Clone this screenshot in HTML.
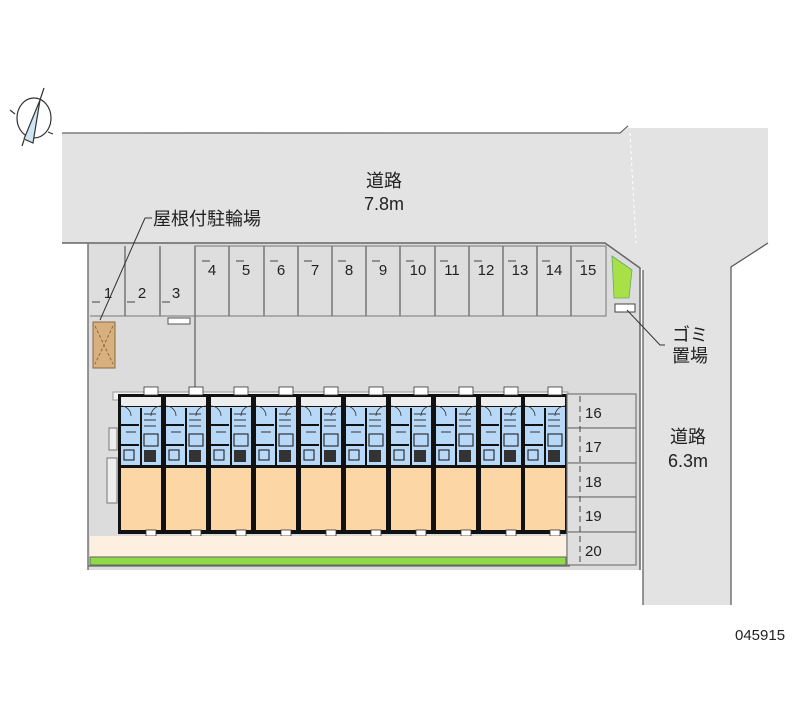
<!DOCTYPE html>
<html><head><meta charset="utf-8"><style>
html,body{margin:0;padding:0;background:#fff}
svg{display:block}
text{font-family:"Liberation Sans","Noto Sans CJK JP",sans-serif;fill:#222}
</style></head><body>
<svg width="800" height="727" viewBox="0 0 800 727" xmlns="http://www.w3.org/2000/svg">
<defs>
<g id="unit">
  <rect x="0" y="0" width="45" height="140" fill="#111"/>
  <rect x="3" y="3" width="40" height="9" fill="#eee"/>
  <rect x="3" y="13" width="40" height="58" fill="#b8d8f8"/>
  <rect x="3" y="74" width="40" height="62" fill="#fcd6a4"/>
  <rect x="22" y="14" width="2" height="57" fill="#111"/>
  <rect x="3" y="30" width="18" height="2" fill="#111"/>
  <rect x="3" y="50" width="18" height="2" fill="#111"/>
  <rect x="26" y="40" width="14" height="12" fill="none" stroke="#111" stroke-width="1"/>
  <rect x="26" y="56" width="12" height="12" fill="#333"/>
  <rect x="6" y="56" width="10" height="10" fill="none" stroke="#111"/>
  <path d="M26 20 h12 M26 26 h12 M26 32 h12 M8 38 h10" stroke="#333" stroke-width="1"/>
  <path d="M3 12 A10 10 0 0 1 13 22 M43 12 A10 10 0 0 0 33 22" fill="none" stroke="#333" stroke-width="0.8"/>
  <rect x="26" y="-7" width="14" height="8" fill="#fff" stroke="#333" stroke-width="0.8"/>
  <rect x="28" y="136" width="10" height="6" fill="#fff" stroke="#333" stroke-width="0.8"/>
</g>
</defs>
<!-- roads -->
<polygon points="62,133 208,132 620,133 628,128 768,128 768,243 731,267 731,605 643,605 643,270 605,243 88,243 62,243" fill="#e3e3e3"/>
<polyline points="62,133 340,133 620,133 628,126" fill="none" stroke="#666" stroke-width="1.2"/>
<polyline points="768,243 731,267 731,605" fill="none" stroke="#555" stroke-width="1.2"/>
<line x1="643" y1="270" x2="643" y2="605" stroke="#555" stroke-width="1.2"/>
<line x1="630" y1="133" x2="636" y2="243" stroke="#fff" stroke-dasharray="3,3"/>
<!-- site -->
<polygon points="88,243 605,243 640,268 640,570 88,570" fill="#dcdcdc"/>
<polyline points="62,243 605,243 640,268 640,570" fill="none" stroke="#666" stroke-width="1.5"/>
<line x1="88" y1="243" x2="88" y2="570" stroke="#777" stroke-width="1.5"/>
<line x1="88" y1="566" x2="570" y2="566" stroke="#666" stroke-width="1.2"/>
<!-- parking top -->
<rect x="90" y="246" width="105" height="70" fill="#dedede"/>
<rect x="195" y="246" width="411" height="70" fill="#dedede" stroke="#777"/>
<line x1="90" y1="316" x2="195" y2="316" stroke="#777"/>
<line x1="125" y1="246" x2="125" y2="316" stroke="#777" stroke-width="1.5"/>
<line x1="160" y1="246" x2="160" y2="316" stroke="#777" stroke-width="1.5"/>
<line x1="195" y1="246" x2="195" y2="395" stroke="#777" stroke-width="1.5"/>
<g stroke="#777" stroke-width="1.5">
<line x1="229" y1="246" x2="229" y2="316"/><line x1="264" y1="246" x2="264" y2="316"/><line x1="298" y1="246" x2="298" y2="316"/><line x1="332" y1="246" x2="332" y2="316"/><line x1="366" y1="246" x2="366" y2="316"/><line x1="400" y1="246" x2="400" y2="316"/><line x1="435" y1="246" x2="435" y2="316"/><line x1="469" y1="246" x2="469" y2="316"/><line x1="503" y1="246" x2="503" y2="316"/><line x1="537" y1="246" x2="537" y2="316"/><line x1="571" y1="246" x2="571" y2="316"/>
</g>
<line x1="198" y1="261" x2="604" y2="261" stroke="#444" stroke-dasharray="8,26" stroke-dashoffset="-4"/>
<line x1="92" y1="302" x2="194" y2="302" stroke="#444" stroke-dasharray="8,27"/>
<g font-size="15" text-anchor="middle">
<text x="108" y="298">1</text><text x="142" y="298">2</text><text x="176" y="298">3</text>
<text x="212" y="275">4</text><text x="246" y="275">5</text><text x="281" y="275">6</text><text x="315" y="275">7</text><text x="349" y="275">8</text><text x="383" y="275">9</text><text x="418" y="275">10</text><text x="452" y="275">11</text><text x="486" y="275">12</text><text x="520" y="275">13</text><text x="554" y="275">14</text><text x="588" y="275">15</text>
</g>
<!-- green corner & trash -->
<polygon points="612,256 632,270 629,298 614,298" fill="#a8e048" stroke="#6a6" stroke-width="0.8"/>
<rect x="615" y="304" width="20" height="8" fill="#fff" stroke="#444"/>
<polyline points="627,310 660,345 665,345" fill="none" stroke="#333"/>
<!-- bike shelter -->
<rect x="93" y="322" width="22" height="46" fill="#d8b080" stroke="#8a6a40"/>
<path d="M95 326 L113 364 M113 326 L95 364" stroke="#8a6a40" stroke-dasharray="3,2"/>
<line x1="100" y1="320" x2="145" y2="218" stroke="#333"/>
<line x1="145" y1="218" x2="152" y2="218" stroke="#333"/>
<rect x="168" y="318" width="22" height="6" fill="#fff" stroke="#555"/>
<rect x="109" y="428" width="8" height="22" fill="#eee" stroke="#777"/>
<rect x="107" y="458" width="10" height="45" fill="#eee" stroke="#777"/>
<!-- building -->
<rect x="113" y="392" width="455" height="8" fill="#f2f2f2" stroke="#999"/>
<use href="#unit" x="118" y="394"/><use href="#unit" x="163" y="394"/><use href="#unit" x="208" y="394"/><use href="#unit" x="253" y="394"/><use href="#unit" x="298" y="394"/><use href="#unit" x="343" y="394"/><use href="#unit" x="388" y="394"/><use href="#unit" x="433" y="394"/><use href="#unit" x="478" y="394"/><use href="#unit" x="522" y="394"/>
<rect x="90" y="536" width="476" height="20" fill="#fdf0e0"/>
<rect x="90" y="557" width="476" height="8" fill="#8ed84a" stroke="#555" stroke-width="0.8"/>
<!-- spaces 16-20 -->
<g fill="#dedede" stroke="#777" stroke-width="1.2">
<rect x="567" y="394" width="69" height="34"/><rect x="567" y="428" width="69" height="35"/><rect x="567" y="463" width="69" height="34"/><rect x="567" y="497" width="69" height="35"/><rect x="567" y="532" width="69" height="33"/>
</g>
<line x1="580" y1="396" x2="580" y2="564" stroke="#444" stroke-dasharray="6,4"/>
<g font-size="15"><text x="585" y="418">16</text><text x="585" y="452">17</text><text x="585" y="487">18</text><text x="585" y="521">19</text><text x="585" y="556">20</text></g>
<!-- labels -->
<g font-size="18" text-anchor="middle">
<text x="384" y="187">道路</text><text x="384" y="210">7.8m</text>
<text x="688" y="443">道路</text><text x="688" y="467">6.3m</text>
<text x="690" y="341">ゴミ</text><text x="690" y="362">置場</text>
</g>
<text x="153" y="225" font-size="18">屋根付駐輪場</text>
<text x="735" y="640" font-size="15">045915</text>
<!-- compass -->
<g stroke="#333" stroke-width="1.2" fill="none">
<ellipse cx="34" cy="118" rx="17" ry="20"/>
<polygon points="40,100 24,139 33,143" fill="#cfe6f2"/>
<line x1="40" y1="100" x2="44" y2="88"/>
<line x1="10" y1="110" x2="15" y2="114"/><line x1="48" y1="132" x2="53" y2="134"/><line x1="22" y1="146" x2="24" y2="140"/>
</g>
</svg>
</body></html>
